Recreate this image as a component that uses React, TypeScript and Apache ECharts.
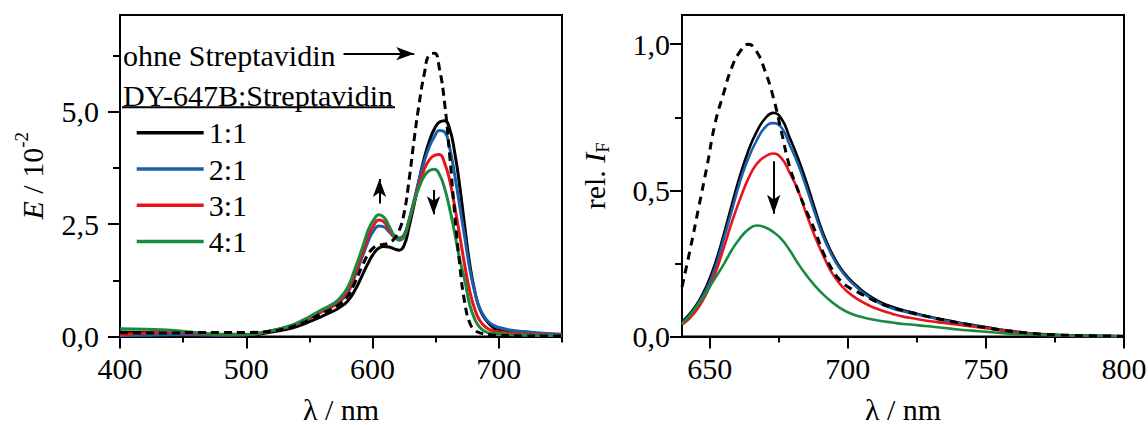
import React, { useEffect, useRef } from 'react';
import * as echarts from 'echarts';

const FONT = 'Liberation Serif';

// ---------- Absorption (left) ----------
const absWavelengths = [400, 420, 440, 460, 480, 500, 520, 530, 540, 550, 560, 567, 573, 580, 586, 592, 597, 601, 605, 609, 613, 617, 621, 625, 629, 633, 637, 641, 645, 649, 653, 657, 661, 665, 669, 673, 677, 681, 685, 690, 695, 700, 710, 720, 735, 750];
const absOhne = [0.09, 0.08, 0.08, 0.09, 0.09, 0.09, 0.12, 0.17, 0.25, 0.37, 0.52, 0.6, 0.7, 0.88, 1.2, 1.58, 1.85, 1.98, 2.03, 2.05, 2.08, 2.17, 2.35, 2.75, 3.5, 4.4, 5.2, 5.85, 6.27, 6.3, 5.95, 5.2, 4.05, 2.75, 1.6, 0.75, 0.3, 0.14, 0.08, 0.05, 0.03, 0.02, 0.02, 0.01, 0.01, 0.01];
const abs11 = [0.1, 0.09, 0.07, 0.05, 0.03, 0.03, 0.1, 0.15, 0.22, 0.33, 0.45, 0.54, 0.63, 0.78, 1.03, 1.37, 1.66, 1.85, 1.97, 2.0, 1.99, 1.95, 1.92, 2.03, 2.45, 2.95, 3.5, 3.98, 4.35, 4.62, 4.77, 4.8, 4.62, 4.1, 3.35, 2.45, 1.6, 1.0, 0.6, 0.36, 0.21, 0.14, 0.09, 0.07, 0.05, 0.04];
const abs21 = [0.02, 0.03, 0.04, 0.04, 0.03, 0.04, 0.13, 0.19, 0.28, 0.41, 0.56, 0.65, 0.75, 0.96, 1.34, 1.78, 2.15, 2.36, 2.46, 2.44, 2.33, 2.22, 2.19, 2.27, 2.6, 3.05, 3.5, 3.9, 4.22, 4.45, 4.58, 4.55, 4.2, 3.6, 2.9, 2.2, 1.5, 0.98, 0.62, 0.38, 0.26, 0.2, 0.14, 0.11, 0.07, 0.05];
const abs31 = [0.04, 0.08, 0.09, 0.07, 0.04, 0.04, 0.13, 0.19, 0.28, 0.41, 0.56, 0.66, 0.77, 1.0, 1.4, 1.85, 2.26, 2.48, 2.59, 2.55, 2.38, 2.22, 2.16, 2.24, 2.58, 3.0, 3.4, 3.72, 3.93, 4.03, 4.05, 3.86, 3.48, 2.9, 2.25, 1.58, 1.0, 0.6, 0.35, 0.2, 0.13, 0.1, 0.07, 0.05, 0.04, 0.03];
const abs41 = [0.17, 0.16, 0.14, 0.09, 0.05, 0.05, 0.13, 0.2, 0.3, 0.44, 0.6, 0.7, 0.82, 1.08, 1.5, 1.98, 2.4, 2.6, 2.71, 2.65, 2.46, 2.25, 2.14, 2.22, 2.6, 3.0, 3.33, 3.57, 3.69, 3.72, 3.6, 3.3, 2.85, 2.3, 1.72, 1.25, 0.7, 0.38, 0.2, 0.1, 0.07, 0.06, 0.04, 0.03, 0.02, 0.02];

// ---------- Emission (right) ----------
const emWavelengths = [640, 643, 646, 649, 652, 655, 658, 661, 664, 667, 670, 673, 676, 679, 682, 685, 688, 691, 694, 697, 700, 704, 708, 712, 716, 720, 725, 730, 735, 740, 745, 750, 755, 760, 765, 770, 780, 790, 800];
const emOhne = [0.17, 0.3, 0.44, 0.58, 0.73, 0.83, 0.92, 0.975, 1.0, 0.975, 0.91, 0.82, 0.7, 0.58, 0.5, 0.43, 0.365, 0.29, 0.235, 0.195, 0.17, 0.15, 0.13, 0.112, 0.1, 0.089, 0.077, 0.066, 0.056, 0.047, 0.038, 0.03, 0.023, 0.017, 0.012, 0.008, 0.004, 0.002, 0.001];
const em11 = [0.05, 0.08, 0.12, 0.175, 0.25, 0.345, 0.45, 0.55, 0.635, 0.7, 0.745, 0.765, 0.745, 0.68, 0.61, 0.53, 0.44, 0.355, 0.29, 0.24, 0.203, 0.167, 0.138, 0.117, 0.102, 0.09, 0.078, 0.067, 0.057, 0.048, 0.04, 0.032, 0.024, 0.018, 0.012, 0.008, 0.004, 0.002, 0.001];
const em21 = [0.045, 0.075, 0.115, 0.165, 0.235, 0.33, 0.43, 0.53, 0.61, 0.67, 0.715, 0.73, 0.715, 0.655, 0.59, 0.51, 0.425, 0.345, 0.283, 0.234, 0.198, 0.162, 0.133, 0.112, 0.097, 0.086, 0.075, 0.065, 0.055, 0.046, 0.038, 0.03, 0.023, 0.017, 0.011, 0.007, 0.003, 0.002, 0.001];
const em31 = [0.04, 0.065, 0.1, 0.15, 0.215, 0.3, 0.39, 0.47, 0.54, 0.59, 0.615, 0.626, 0.61, 0.56, 0.5, 0.42, 0.345, 0.28, 0.222, 0.182, 0.152, 0.125, 0.105, 0.09, 0.078, 0.068, 0.06, 0.052, 0.046, 0.04, 0.034, 0.028, 0.021, 0.015, 0.01, 0.007, 0.003, 0.002, 0.001];
const em41 = [0.043, 0.075, 0.11, 0.155, 0.2, 0.245, 0.295, 0.336, 0.366, 0.38, 0.374, 0.358, 0.333, 0.295, 0.25, 0.21, 0.175, 0.145, 0.12, 0.099, 0.083, 0.069, 0.06, 0.053, 0.048, 0.043, 0.039, 0.034, 0.029, 0.024, 0.02, 0.016, 0.012, 0.009, 0.007, 0.005, 0.003, 0.002, 0.001];

// ---------- series names / colours ----------
const ratioNames = ['1:1', '2:1', '3:1', '4:1'];
const ratioColors = ['#000000', '#1b5fab', '#e8141c', '#198a3e'];
const ohneName = 'ohne Streptavidin';
const legendTitle = 'DY-647B:Streptavidin';

// ---------- axes ----------
const absXMajor = [400, 500, 600, 700];
const absXMinor = [450, 550, 650, 750];
const absYMajor = [0, 2.5, 5.0];
const absYMinor = [1.25, 3.75, 6.25];
const emXMajor = [650, 700, 750, 800];
const emXMinor = [675, 725, 775];
const emYMajor = [0, 0.5, 1.0];
const emYMinor = [0.25, 0.75];

// ---------- annotation arrows (data coords: start -> end) ----------
const absArrows = [
  [[577, 6.29], [633, 6.29]],
  [[605.5, 2.96], [605.5, 3.5]],
  [[648.3, 3.26], [648.3, 2.72]],
];
const emArrows = [[[673.2, 0.6], [673.2, 0.42]]];

const pairs = (xs: number[], ys: number[]) => xs.map((x, i) => [x, ys[i]]);
const commaFmt = (v: number) => v.toFixed(1).replace('.', ',');

const baseText = { fontFamily: FONT, color: '#000', fontSize: 30 };

function majorX(grid: number, min: number, max: number, vals: number[], withName: boolean) {
  return {
    type: 'value', gridIndex: grid, min, max, position: 'bottom',
    axisLine: { show: true, onZero: false, lineStyle: { color: '#000', width: 2 } },
    axisTick: { show: true, inside: false, length: 12, customValues: vals, lineStyle: { color: '#000', width: 2 } },
    axisLabel: { show: true, customValues: vals, margin: 17, ...baseText },
    splitLine: { show: false },
    name: withName ? 'λ / nm' : '',
    nameLocation: 'middle', nameGap: 58,
    nameTextStyle: { ...baseText },
  };
}
function minorX(grid: number, min: number, max: number, vals: number[]) {
  return {
    type: 'value', gridIndex: grid, min, max, position: 'bottom',
    axisLine: { show: false, onZero: false },
    axisTick: { show: true, inside: false, length: 6, customValues: vals, lineStyle: { color: '#000', width: 2 } },
    axisLabel: { show: false },
    splitLine: { show: false },
  };
}
function majorY(grid: number, min: number, max: number, vals: number[], margin: number, name: string, nameGap: number, rich: any) {
  return {
    type: 'value', gridIndex: grid, min, max, position: 'left',
    axisLine: { show: true, onZero: false, lineStyle: { color: '#000', width: 2 } },
    axisTick: { show: true, inside: false, length: 12, customValues: vals, lineStyle: { color: '#000', width: 2 } },
    axisLabel: { show: true, customValues: vals, margin, formatter: commaFmt, ...baseText },
    splitLine: { show: false },
    name, nameLocation: 'middle', nameGap, nameRotate: 90,
    nameTextStyle: { ...baseText, rich },
  };
}
function minorY(grid: number, min: number, max: number, vals: number[]) {
  return {
    type: 'value', gridIndex: grid, min, max, position: 'left',
    axisLine: { show: false, onZero: false },
    axisTick: { show: true, inside: false, length: 7, customValues: vals, lineStyle: { color: '#000', width: 2 } },
    axisLabel: { show: false },
    splitLine: { show: false },
  };
}

function arrowMarkLine(arrows: number[][][], size: number[]) {
  return {
    silent: true,
    animation: false,
    symbol: ['none', 'arrow'],
    symbolSize: size,
    label: { show: false },
    lineStyle: { color: '#000', width: 2, type: 'solid' },
    emphasis: { disabled: true },
    data: arrows.map(([a, b]) => [{ coord: a }, { coord: b }]),
  };
}

function lineSeries(name: string, xi: number, xs: number[], ys: number[], color: string, width: number, dash: any, z: number, markLine?: any) {
  const s: any = {
    name, type: 'line', xAxisIndex: xi, yAxisIndex: xi,
    data: pairs(xs, ys), symbol: 'none', showSymbol: false,
    smooth: 0.5,
    lineStyle: { color, width, type: dash }, itemStyle: { color },
    z,
  };
  if (markLine) s.markLine = markLine;
  return s;
}

function buildOption() {
  const absSeriesData = [abs11, abs21, abs31, abs41];
  const emSeriesData = [em11, em21, em31, em41];
  const series: any[] = [];
  absSeriesData.forEach((d, i) => series.push(lineSeries(ratioNames[i], 0, absWavelengths, d, ratioColors[i], 3, 'solid', 3 + i)));
  series.push(lineSeries(ohneName, 0, absWavelengths, absOhne, '#000', 3, [8, 5], 8, arrowMarkLine(absArrows, [10, 18])));
  emSeriesData.forEach((d, i) => series.push(lineSeries(ratioNames[i], 2, emWavelengths, d, ratioColors[i], 2.6, 'solid', 3 + i)));
  series.push(lineSeries(ohneName, 2, emWavelengths, emOhne, '#000', 3, [8, 6], 8, arrowMarkLine(emArrows, [10, 19])));

  return {
    animation: false,
    backgroundColor: '#ffffff',
    textStyle: { fontFamily: FONT },
    grid: [
      { left: 120, top: 15, width: 442, height: 321.5, show: true, borderColor: '#000', borderWidth: 2, backgroundColor: 'transparent', outerBoundsMode: 'none' },
      { left: 682, top: 15, width: 442, height: 321.5, show: true, borderColor: '#000', borderWidth: 2, backgroundColor: 'transparent', outerBoundsMode: 'none' },
    ],
    xAxis: [
      majorX(0, 400, 750, absXMajor, true),
      minorX(0, 400, 750, absXMinor),
      majorX(1, 640, 800, emXMajor, true),
      minorX(1, 640, 800, emXMinor),
    ],
    yAxis: [
      majorY(0, 0, 7.15, absYMajor, 21, '{i|E}{n| / 10}{s|-2}', 68, {
        i: { fontFamily: FONT, fontSize: 30, fontStyle: 'italic', color: '#000', lineHeight: 40 },
        n: { fontFamily: FONT, fontSize: 30, color: '#000', lineHeight: 40 },
        s: { fontFamily: FONT, fontSize: 19, color: '#000', lineHeight: 19, verticalAlign: 'top' },
      }),
      minorY(0, 0, 7.15, absYMinor),
      majorY(1, 0, 1.1, emYMajor, 12, '{n|rel. }{i|I}{b|F}', 70, {
        n: { fontFamily: FONT, fontSize: 30, color: '#000', lineHeight: 36 },
        i: { fontFamily: FONT, fontSize: 30, fontStyle: 'italic', color: '#000', lineHeight: 36 },
        b: { fontFamily: FONT, fontSize: 19, color: '#000', lineHeight: 19, verticalAlign: 'bottom' },
      }),
      minorY(1, 0, 1.1, emYMinor),
    ],
    legend: {
      data: ratioNames,
      orient: 'vertical',
      left: 136.7,
      top: 117.7,
      padding: 0,
      icon: 'rect',
      itemWidth: 67,
      itemHeight: 3.5,
      itemGap: 6.3,
      selectedMode: false,
      textStyle: { ...baseText, lineHeight: 30 },
    },
    graphic: [
      { type: 'text', x: 123, y: 55, silent: true, style: { text: ohneName, fontFamily: FONT, fontSize: 30, fill: '#000', verticalAlign: 'middle', align: 'left' } },
      { type: 'text', x: 123, y: 95.5, silent: true, style: { text: legendTitle, fontFamily: FONT, fontSize: 30, fill: '#000', verticalAlign: 'middle', align: 'left' } },
      { type: 'line', silent: true, shape: { x1: 122, y1: 107.3, x2: 395, y2: 107.3 }, style: { stroke: '#000', lineWidth: 2 } },
    ],
    series,
  };
}

export default function App() {
  const ref = useRef<HTMLDivElement>(null);
  useEffect(() => {
    if (!ref.current) return;
    const chart = echarts.init(ref.current, null, { renderer: 'svg' });
    chart.setOption(buildOption() as any);
    return () => chart.dispose();
  }, []);
  return (
    <div
      ref={ref}
      style={{ position: 'fixed', left: 0, top: 0, width: 1148, height: 425, background: '#fff' }}
    />
  );
}
